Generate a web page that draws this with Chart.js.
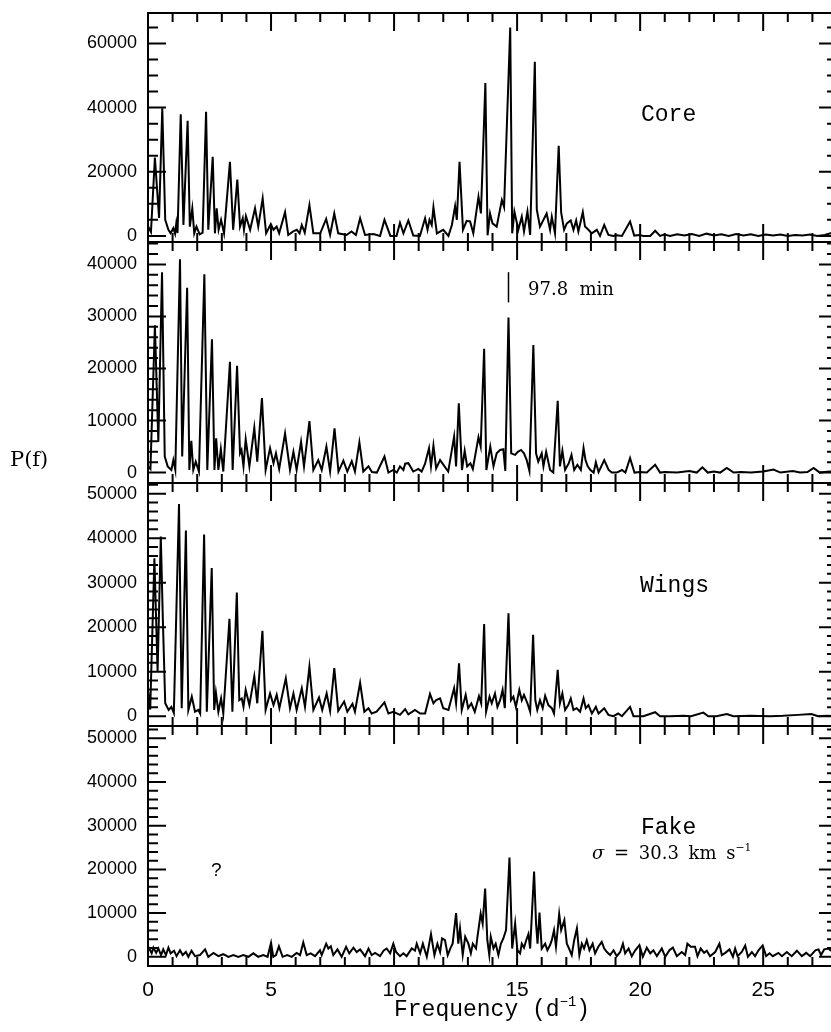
<!DOCTYPE html>
<html>
<head>
<meta charset="utf-8">
<script src="https://cdn.jsdelivr.net/npm/chart.js@4.4.1/dist/chart.umd.min.js"></script>
<style>
  body { margin: 0; background: #fff; width: 831px; height: 1032px; overflow: hidden; position: relative; }
  canvas { position: absolute; left: 0; }
  .txt { position: absolute; line-height: 1; white-space: pre; color: #000; }
  .mono { font-family: "Liberation Mono", monospace; font-size: 23px; }
  .serif { font-family: "DejaVu Serif", serif; }
  sup { font-size: 60%; vertical-align: 0.7em; line-height: 0; }
</style>
</head>
<body>
<canvas id="core" width="845" height="277" style="top:-11px"></canvas>
<canvas id="total" width="845" height="289" style="top:218px"></canvas>
<canvas id="wings" width="845" height="291" style="top:459px"></canvas>
<canvas id="fake" width="845" height="330" style="top:702px"></canvas>

<div class="txt serif" style="left:10px; top:449px; font-size:21px;">P(f)</div>
<div class="txt mono" style="left:641px; top:104px;">Core</div>
<div class="txt serif" style="left:528px; top:280px; font-size:18px;">97.8  min</div>
<div class="txt mono" style="left:640px; top:575px;">Wings</div>
<div class="txt mono" style="left:641px; top:817px;">Fake</div>
<div class="txt serif" style="left:592px; top:844px; font-size:18px; word-spacing:4px;"><i>σ</i> = 30.3 km s<sup>−1</sup></div>
<div class="txt" style="left:211px; top:860px; font-size:19px; font-family:'Liberation Sans';">?</div>
<div class="txt mono" style="left:392px; top:999px; width:200px; text-align:center;">Frequency (d<sup>−1</sup>)</div>

<script>
// frequency axis (d^-1)
const xMin = 0;
const xMax = 28;
const xMajorTicks = [0, 5, 10, 15, 20, 25];

// [frequency, power]
const corePower = [
  [0.00,3000],[0.12,1200],[0.28,24400],[0.45,5600],[0.58,39800],[0.70,5000],[0.83,1900],[0.92,800],
  [1.03,2400],[1.10,700],[1.15,3900],[1.20,900],[1.33,37900],[1.44,3400],[1.61,35900],[1.70,2900],
  [1.80,8600],[1.88,800],[1.97,2900],[2.10,500],[2.22,1000],[2.36,38700],[2.45,1900],[2.63,24700],
  [2.72,800],[2.79,8600],[2.87,1900],[2.97,5000],[3.09,800],[3.33,23100],[3.46,1900],[3.63,17600],
  [3.74,2900],[3.85,5500],[3.90,1900],[3.98,6200],[4.15,1900],[4.35,8600],[4.48,2900],[4.66,11700],
  [4.80,800],[4.99,3700],[5.10,1900],[5.23,2900],[5.33,800],[5.57,7400],[5.70,300],[5.90,1400],
  [6.05,1900],[6.16,800],[6.25,3400],[6.37,1000],[6.56,9600],[6.72,800],[7.00,800],[7.24,5300],
  [7.40,300],[7.57,7000],[7.73,800],[8.07,300],[8.27,1400],[8.45,300],[8.62,5500],[8.82,300],
  [9.16,600],[9.43,0],[9.61,5000],[9.85,0],[10.10,0],[10.24,4100],[10.38,800],[10.58,4800],
  [10.78,100],[11.05,0],[11.26,5500],[11.36,1900],[11.44,5000],[11.53,3400],[11.60,8900],[11.74,800],
  [12.00,1900],[12.21,0],[12.35,3400],[12.48,9300],[12.55,5000],[12.66,23100],[12.80,1900],[12.95,4700],
  [13.09,4500],[13.22,800],[13.43,12200],[13.53,7000],[13.71,47700],[13.80,200],[13.90,7000],[14.00,3900],
  [14.17,2900],[14.38,11200],[14.47,9000],[14.72,65000],[14.80,800],[14.89,7600],[15.05,1900],[15.19,6000],
  [15.28,1400],[15.42,7600],[15.53,300],[15.72,54300],[15.80,8200],[15.93,2900],[16.20,7000],[16.34,1900],
  [16.41,6000],[16.54,800],[16.69,28100],[16.79,7300],[16.91,1900],[17.02,3900],[17.18,4800],[17.29,1900],
  [17.40,4800],[17.49,1400],[17.67,7400],[17.76,2900],[17.90,1900],[18.03,800],[18.24,1900],[18.37,0],
  [18.54,3400],[18.71,300],[18.91,0],[19.05,200],[19.26,0],[19.59,4500],[19.76,100],[19.97,300],
  [20.13,0],[20.41,0],[20.61,1600],[20.81,0],[20.98,400],[21.22,0],[21.50,500],[21.80,100],
  [22.10,600],[22.40,0],[22.70,700],[23.00,100],[23.30,500],[23.60,0],[23.90,600],[24.20,100],
  [24.50,500],[24.80,0],[25.10,400],[25.40,100],[25.70,400],[26.00,0],[26.30,300],[26.60,100],
  [26.90,400],[27.20,0],[27.50,300],[27.80,1000],[28.00,300]
];

const totalPower = [
  [0.00,1200],[0.10,700],[0.28,28300],[0.42,5900],[0.57,38500],[0.68,3100],[0.80,1200],[0.95,500],
  [1.03,2400],[1.11,500],[1.30,41000],[1.39,3100],[1.59,35500],[1.68,500],[1.76,6100],[1.84,500],
  [1.94,2100],[2.07,200],[2.29,38100],[2.41,500],[2.60,25600],[2.70,500],[2.77,6600],[2.86,500],
  [2.96,4500],[3.06,200],[3.33,21300],[3.44,500],[3.62,20500],[3.74,3700],[3.80,4350],[3.88,1200],
  [3.97,6400],[4.12,1200],[4.32,8600],[4.44,2100],[4.63,14300],[4.78,500],[4.96,4700],[5.10,1800],
  [5.20,3700],[5.33,700],[5.57,7500],[5.77,500],[5.91,4000],[6.04,500],[6.22,5900],[6.34,1200],
  [6.56,9900],[6.72,500],[6.92,2400],[7.06,500],[7.25,5000],[7.40,200],[7.58,8500],[7.74,200],
  [7.94,2300],[8.10,200],[8.28,2200],[8.41,200],[8.59,5800],[8.75,200],[8.96,1200],[9.10,100],
  [9.30,0],[9.61,3100],[9.77,0],[9.97,500],[10.11,0],[10.24,1200],[10.38,500],[10.45,1700],
  [10.58,1800],[10.78,200],[10.99,700],[11.12,200],[11.26,1700],[11.42,4700],[11.50,1200],[11.60,5200],
  [11.71,800],[11.87,2400],[12.20,200],[12.44,6900],[12.52,1200],[12.63,13300],[12.76,500],[12.87,4200],
  [12.97,1200],[13.10,1800],[13.20,700],[13.43,6800],[13.52,5000],[13.66,23800],[13.75,500],[13.91,5000],
  [14.04,1200],[14.17,3700],[14.31,4350],[14.44,4500],[14.52,300],[14.65,29800],[14.76,3700],[14.92,3400],
  [15.03,4000],[15.16,4350],[15.28,3700],[15.39,2400],[15.50,300],[15.66,24500],[15.77,3700],[15.86,2100],
  [16.00,3700],[16.07,1200],[16.18,4000],[16.34,500],[16.47,0],[16.65,13800],[16.74,1200],[16.84,4200],
  [16.95,500],[17.10,1800],[17.21,3400],[17.32,500],[17.45,1500],[17.59,500],[17.70,4700],[17.78,2400],
  [17.87,1200],[17.98,500],[18.11,0],[18.20,2000],[18.31,100],[18.54,2400],[18.72,500],[18.85,0],
  [19.05,0],[19.26,500],[19.40,0],[19.59,2800],[19.77,0],[20.00,100],[20.27,0],[20.61,1500],
  [20.81,0],[21.00,100],[21.50,0],[22.00,300],[22.30,0],[22.53,1000],[22.75,0],[23.00,200],
  [23.25,0],[23.52,900],[23.80,0],[24.10,100],[24.50,0],[25.00,200],[25.42,600],[25.70,0],
  [26.20,300],[26.50,0],[26.80,100],[27.05,900],[27.30,0],[27.70,200],[28.00,100]
];

const wingsPower = [
  [0.00,5900],[0.09,1500],[0.26,35500],[0.39,10000],[0.52,40400],[0.60,22400],[0.70,2900],[0.84,1400],
  [0.95,2100],[1.05,700],[1.26,47700],[1.37,1800],[1.54,41700],[1.64,1400],[1.78,4400],[1.91,1000],
  [2.05,1400],[2.12,600],[2.28,40800],[2.39,1000],[2.59,33300],[2.69,1400],[2.76,5300],[2.86,1000],
  [2.97,4000],[3.06,600],[3.31,21900],[3.43,1000],[3.61,27800],[3.71,3600],[3.81,4000],[3.88,2100],
  [3.97,5900],[4.12,2500],[4.32,9000],[4.44,2900],[4.65,19200],[4.78,1400],[4.96,5100],[5.10,2500],
  [5.23,4800],[5.34,1800],[5.60,8500],[5.77,1800],[5.91,5100],[6.04,1400],[6.25,6300],[6.38,2100],
  [6.56,11100],[6.72,1400],[6.95,4200],[7.08,1400],[7.26,5100],[7.40,1200],[7.57,10800],[7.73,1200],
  [7.97,3300],[8.10,1000],[8.31,2800],[8.41,1000],[8.62,7500],[8.79,1000],[8.96,1800],[9.09,600],
  [9.29,1000],[9.61,3100],[9.77,600],[9.97,1000],[10.24,300],[10.45,1600],[10.58,400],[10.85,1400],
  [11.06,600],[11.26,600],[11.46,5000],[11.60,2900],[11.71,3600],[11.87,4000],[12.00,1800],[12.21,1400],
  [12.44,6300],[12.52,2900],[12.64,11900],[12.75,1400],[12.91,4800],[13.01,1800],[13.14,2900],[13.28,1000],
  [13.45,4500],[13.54,2900],[13.66,20700],[13.74,1000],[13.88,4400],[13.97,2900],[14.10,5100],[14.20,2100],
  [14.31,3600],[14.41,5900],[14.50,1800],[14.65,23100],[14.75,3600],[14.85,4400],[14.95,2100],[15.09,5900],
  [15.19,3600],[15.28,4800],[15.42,2900],[15.53,1000],[15.65,18300],[15.74,3600],[15.82,1400],[15.93,3600],
  [16.04,1800],[16.14,4600],[16.27,2500],[16.41,1800],[16.50,600],[16.65,10400],[16.74,2900],[16.84,5100],
  [16.95,1400],[17.08,2500],[17.18,4000],[17.29,1400],[17.42,1800],[17.56,1000],[17.70,4000],[17.79,1800],
  [17.90,2500],[18.04,600],[18.20,2100],[18.31,600],[18.54,1800],[18.71,300],[18.91,0],[19.11,600],
  [19.26,0],[19.59,2100],[19.73,0],[20.13,0],[20.61,900],[20.81,0],[21.20,0],[21.76,100],
  [22.07,0],[22.57,800],[22.77,0],[23.10,0],[23.52,500],[23.79,0],[24.47,100],[25.28,0],
  [25.80,100],[26.42,300],[26.96,500],[27.23,0],[27.60,100],[28.00,0]
];

const fakePower = [
  [0.00,1500],[0.05,1900],[0.15,800],[0.22,2100],[0.33,900],[0.42,1900],[0.53,400],[0.62,1700],
  [0.73,400],[0.83,2100],[0.92,800],[1.06,1400],[1.16,150],[1.30,1500],[1.41,400],[1.54,1100],
  [1.64,0],[1.77,1400],[1.91,150],[2.11,400],[2.32,1700],[2.45,0],[2.66,900],[2.86,150],
  [3.06,600],[3.27,0],[3.47,400],[3.67,0],[3.87,400],[4.08,0],[4.28,800],[4.48,0],
  [4.69,400],[4.86,0],[5.00,3200],[5.09,0],[5.20,400],[5.32,2400],[5.47,0],[5.66,400],
  [5.84,0],[6.04,900],[6.18,400],[6.31,3300],[6.45,400],[6.61,800],[6.79,150],[6.99,1500],
  [7.06,400],[7.24,3000],[7.33,1900],[7.43,2400],[7.53,400],[7.70,1700],[7.87,0],[8.05,2300],
  [8.18,800],[8.35,2100],[8.48,1100],[8.62,1700],[8.82,150],[8.96,1900],[9.09,400],[9.23,900],
  [9.43,150],[9.57,1400],[9.70,1900],[9.84,800],[9.97,3000],[10.08,1100],[10.24,150],[10.38,800],
  [10.51,150],[10.72,1900],[10.85,1400],[10.92,3000],[11.06,800],[11.17,3000],[11.33,0],[11.50,5200],
  [11.64,400],[11.76,3000],[11.87,1100],[11.95,4200],[12.07,3800],[12.18,400],[12.30,2100],[12.38,3000],
  [12.52,10000],[12.61,3000],[12.68,6500],[12.79,400],[12.89,4600],[13.02,3000],[13.12,800],[13.20,3000],
  [13.33,1900],[13.39,4600],[13.52,9900],[13.60,7600],[13.70,15600],[13.79,3800],[13.87,400],[13.93,4600],
  [14.04,1900],[14.13,3000],[14.24,400],[14.34,3000],[14.44,4200],[14.55,6100],[14.69,22700],[14.80,1900],
  [14.92,7600],[15.01,1500],[15.12,800],[15.19,3000],[15.28,2100],[15.37,3800],[15.46,5200],[15.53,1900],
  [15.69,19500],[15.77,7600],[15.83,3000],[15.91,10100],[16.00,1900],[16.14,3000],[16.23,1500],[16.34,2700],
  [16.41,3800],[16.50,6100],[16.58,2300],[16.71,9800],[16.79,6100],[16.92,8400],[17.02,3000],[17.11,1900],
  [17.22,400],[17.32,3800],[17.43,6500],[17.53,400],[17.63,3000],[17.72,1900],[17.83,3800],[17.94,1500],
  [18.07,3000],[18.17,800],[18.30,2300],[18.44,3400],[18.54,1900],[18.65,1100],[18.78,400],[18.92,1500],
  [19.05,150],[19.19,1100],[19.30,3000],[19.39,800],[19.53,1900],[19.66,150],[19.80,1500],[19.97,2700],
  [20.11,0],[20.27,2100],[20.41,800],[20.54,1500],[20.68,150],[20.88,1900],[21.02,0],[21.19,1500],
  [21.33,2100],[21.49,150],[21.69,1100],[21.83,400],[21.92,3000],[22.06,2300],[22.23,2300],[22.33,150],
  [22.46,1900],[22.60,900],[22.71,1400],[22.84,150],[23.05,1100],[23.22,3000],[23.32,400],[23.46,900],
  [23.63,1700],[23.77,0],[23.86,1900],[23.96,150],[24.13,1100],[24.27,2600],[24.38,0],[24.54,1100],
  [24.67,150],[24.81,1500],[24.98,2600],[25.12,150],[25.26,800],[25.39,150],[25.62,900],[25.76,150],
  [25.96,1100],[26.16,150],[26.37,1400],[26.57,150],[26.75,900],[26.91,150],[27.12,1500],[27.25,1700],
  [27.35,400],[27.48,1700],[27.66,1900],[27.73,1500],[28.00,1200]
];

// y axis ranges and tick labels for each panel
const coreRange = [-1900, 69500];
const coreTicks = [0, 20000, 40000, 60000];
const totalRange = [-2000, 44300];
const totalTicks = [0, 10000, 20000, 30000, 40000];
const wingsRange = [-2200, 52400];
const wingsTicks = [0, 10000, 20000, 30000, 40000, 50000];
const fakeRange = [-2100, 52800];
const fakeTicks = [0, 10000, 20000, 30000, 40000, 50000];

// 97.8 min marker above the main peak
const markerFreq = 14.65;
const markerSpan = [32700, 38500];

const PAD = 24;

// frame with inward ticks on all four sides
const framePlugin = {
    id: 'frame',
    afterDraw(chart, args, opts) {
        const ctx = chart.ctx;
        const area = chart.chartArea;
        const xs = chart.scales.x;
        const ys = chart.scales.y;
        ctx.save();
        ctx.strokeStyle = '#000';
        ctx.lineWidth = 2;
        ctx.strokeRect(area.left, area.top, area.right - area.left, area.bottom - area.top);

        ctx.beginPath();
        for (let f = Math.ceil(xMin); f <= xMax; f++) {
            const px = xs.getPixelForValue(f);
            const len = xMajorTicks.includes(f) || f % 5 === 0 ? 18 : 9;
            ctx.moveTo(px, area.top); ctx.lineTo(px, area.top + len);
            ctx.moveTo(px, area.bottom); ctx.lineTo(px, area.bottom - len);
        }
        for (let v = 0; v <= ys.max; v += opts.minorStep) {
            const py = ys.getPixelForValue(v);
            const len = opts.majorTicks.includes(v) ? 18 : 10;
            ctx.moveTo(area.left, py); ctx.lineTo(area.left + len, py);
            ctx.moveTo(area.right, py); ctx.lineTo(area.right - len, py);
        }
        ctx.stroke();

        if (opts.marker) {
            const mx = xs.getPixelForValue(opts.marker.freq);
            ctx.lineWidth = 1.5;
            ctx.beginPath();
            ctx.moveTo(mx, ys.getPixelForValue(opts.marker.span[0]));
            ctx.lineTo(mx, ys.getPixelForValue(opts.marker.span[1]));
            ctx.stroke();
        }
        ctx.restore();
    }
};

function makePanel(id, series, range, ticks, minorStep, showX, marker) {
    new Chart(document.getElementById(id), {
        type: 'line',
        data: {
            datasets: [{
                data: series.map(p => ({ x: p[0], y: p[1] })),
                borderColor: '#000',
                borderWidth: 2,
                pointRadius: 0,
                tension: 0,
                fill: false
            }]
        },
        options: {
            responsive: false,
            animation: false,
            layout: { padding: { left: 0, right: 8, top: PAD, bottom: showX ? 0 : PAD } },
            plugins: {
                legend: { display: false },
                tooltip: { enabled: false },
                frame: { majorTicks: ticks, minorStep: minorStep, marker: marker }
            },
            scales: {
                x: {
                    type: 'linear',
                    min: xMin,
                    max: xMax,
                    display: showX,
                    grid: { display: false, drawTicks: false },
                    border: { display: false },
                    afterBuildTicks: s => { s.ticks = xMajorTicks.map(v => ({ value: v })); },
                    afterFit: s => { s.height = showX ? 66 : 0; },
                    ticks: {
                        color: '#000',
                        padding: 12,
                        maxRotation: 0,
                        font: { family: 'Liberation Sans', size: 21 }
                    }
                },
                y: {
                    type: 'linear',
                    min: range[0],
                    max: range[1],
                    grid: { display: false, drawTicks: false },
                    border: { display: false },
                    afterBuildTicks: s => { s.ticks = ticks.map(v => ({ value: v })); },
                    afterFit: s => { s.width = 148; },
                    ticks: {
                        color: '#000',
                        padding: 11,
                        font: { family: 'Liberation Sans', size: 18 },
                        callback: v => String(v)
                    }
                }
            }
        },
        plugins: [framePlugin]
    });
}

makePanel('core', corePower, coreRange, coreTicks, 5000, false, null);
makePanel('total', totalPower, totalRange, totalTicks, 2000, false, { freq: markerFreq, span: markerSpan });
makePanel('wings', wingsPower, wingsRange, wingsTicks, 2000, false, null);
makePanel('fake', fakePower, fakeRange, fakeTicks, 2000, true, null);
</script>
</body>
</html>
